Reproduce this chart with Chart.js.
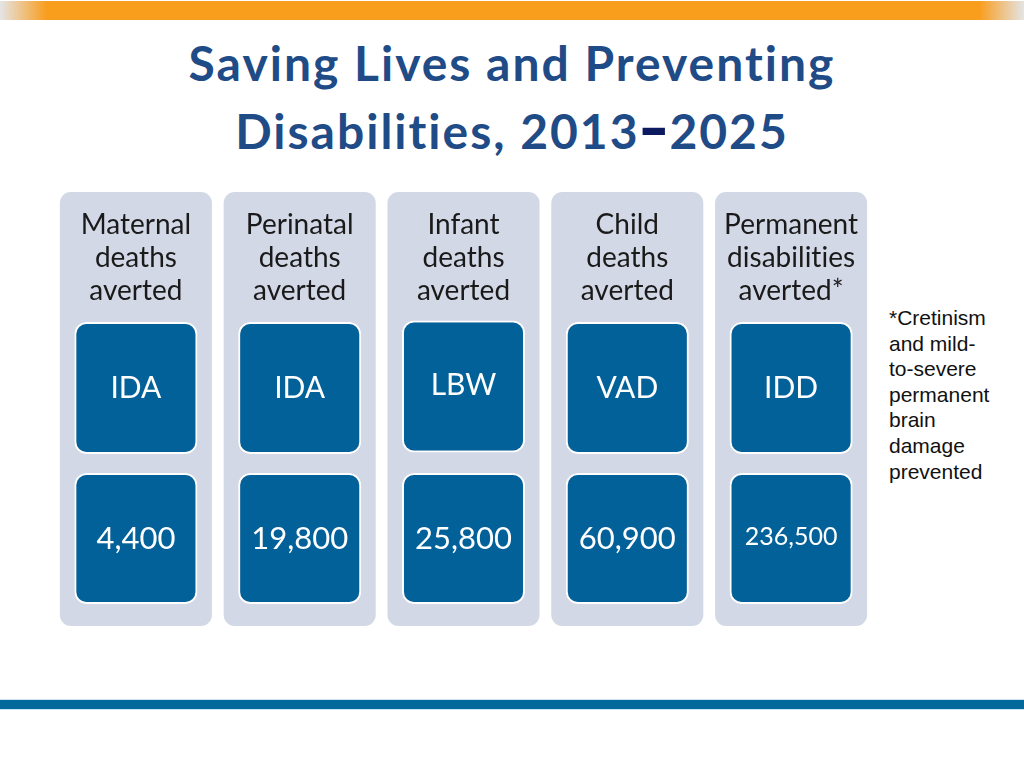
<!DOCTYPE html>
<html>
<head>
<meta charset="utf-8">
<script src="https://cdn.jsdelivr.net/npm/chart.js@4"></script>
<style>
  html, body { margin: 0; padding: 0; background: #ffffff; }
  body { width: 1024px; height: 768px; position: relative; overflow: hidden; }
  #topbar { position: absolute; left: 0; top: 1px; width: 1024px; height: 19px;
    background: linear-gradient(to right, #e4e4e6 0%, #f99d1c 4.6%, #f99d1c 95.6%, #e4e4e6 100%); }
  #bottombar { position: absolute; left: 0; top: 699px; width: 1024px; height: 9px;
    background: #03699a; border-top: 1px solid #cde6f3; border-bottom: 1px solid #cde6f3; box-sizing: content-box; }
  .title { position: absolute; left: 0; width: 1024px; text-align: center;
    font-family: Lato, "Open Sans", sans-serif; font-weight: bold; color: #1f4b87; font-size: 48px; line-height: 60px;
    letter-spacing: 2px; font-variant-ligatures: none; }
  #t1 { top: 33px; }
  #t2 { top: 101px; }
  #t2 .dash { color: #0c1a60; display: inline-block; transform: scale(1.15, 1.7); position: relative; top: -6px; }
  #note { position: absolute; left: 889px; top: 305px; font-family: "Liberation Sans", Arial, sans-serif;
    font-size: 21px; line-height: 25.6px; color: #111; }
  #wrap { position: absolute; left: 0; top: 0; width: 1024px; height: 768px; }
</style>
</head>
<body>
<div id="topbar"></div>
<div class="title" id="t1">Saving Lives and Preventing</div>
<div class="title" id="t2">Disabilities, 2013<span class="dash">–</span>2025</div>
<div id="note">*Cretinism<br>and mild-<br>to-severe<br>permanent<br>brain<br>damage<br>prevented</div>
<div id="bottombar"></div>
<div id="wrap"><canvas id="c" width="1024" height="768"></canvas></div>
<script>
// ---- data ----
const categories = [
  ["Maternal", "deaths", "averted"],
  ["Perinatal", "deaths", "averted"],
  ["Infant", "deaths", "averted"],
  ["Child", "deaths", "averted"],
  ["Permanent", "disabilities", "averted*"]
];
const conditions = ["IDA", "IDA", "LBW", "VAD", "IDD"];
const averted = [4400, 19800, 25800, 60900, 236500];

// ---- layout (page pixel units on a reversed y scale) ----
const COL = [192, 626];
const TOPBOX = [322, 454];
const BOTBOX = [473, 604];
const topBoxShift = [0, 0, -1.5, 0, 0];

const labels = categories.map(l => l.join(" "));
const colData = labels.map(() => COL.slice());
const topData = labels.map((_, i) => [TOPBOX[0] + topBoxShift[i], TOPBOX[1] + topBoxShift[i]]);
const botData = labels.map(() => BOTBOX.slice());

const textPlugin = {
  id: 'boxText',
  afterDatasetsDraw(chart) {
    const ctx = chart.ctx;
    const colMeta = chart.getDatasetMeta(0);
    const topMeta = chart.getDatasetMeta(1);
    const botMeta = chart.getDatasetMeta(2);
    ctx.save();
    ctx.textAlign = 'center';
    ctx.textBaseline = 'middle';
    if ('textRendering' in ctx) ctx.textRendering = 'optimizeSpeed';
    if ('letterSpacing' in ctx) ctx.letterSpacing = '0.01px';
    categories.forEach((lines, i) => {
      const col = colMeta.data[i];
      const colTop = Math.min(col.y, col.base);
      ctx.fillStyle = '#1a1a1a';
      ctx.font = '28px Lato, "Open Sans", sans-serif';
      lines.forEach((t, j) => ctx.fillText(t, col.x, colTop + 33 + j * 33));
      const tb = topMeta.data[i];
      ctx.fillStyle = '#ffffff';
      ctx.font = '30px Lato, "Open Sans", sans-serif';
      ctx.fillText(conditions[i], tb.x, (tb.y + tb.base) / 2 - (i === 2 ? 1.5 : 0));
      const bb = botMeta.data[i];
      const v = averted[i];
      ctx.font = (v >= 100000 ? '25px' : '31px') + ' Lato, "Open Sans", sans-serif';
      ctx.fillText(v.toLocaleString('en-US'), bb.x, (bb.y + bb.base) / 2 + (v >= 100000 ? -2 : 0));
    });
    ctx.restore();
  }
};

new Chart(document.getElementById('c'), {
  type: 'bar',
  data: {
    labels: labels,
    datasets: [
      { label: 'column', data: colData, backgroundColor: '#d3d8e6', borderWidth: 0,
        borderRadius: 11, borderSkipped: false, grouped: false,
        barPercentage: 152 / 163.75, categoryPercentage: 1, order: 3 },
      { label: 'condition', data: topData, backgroundColor: '#03619a', borderColor: '#ffffff', borderWidth: 2,
        borderRadius: 12, borderSkipped: false, grouped: false,
        barPercentage: 123 / 163.75, categoryPercentage: 1, order: 2 },
      { label: 'averted', data: botData, backgroundColor: '#03619a', borderColor: '#ffffff', borderWidth: 2,
        borderRadius: 12, borderSkipped: false, grouped: false,
        barPercentage: 123 / 163.75, categoryPercentage: 1, order: 1 }
    ]
  },
  options: {
    responsive: false,
    animation: false,
    events: [],
    layout: { padding: { left: 54, right: 151, top: 0, bottom: 0 } },
    plugins: { legend: { display: false }, tooltip: { enabled: false }, title: { display: false } },
    scales: {
      x: { display: false, offset: true },
      y: { display: false, min: 0, max: 768, reverse: true }
    }
  },
  plugins: [textPlugin]
});
</script>
</body>
</html>
